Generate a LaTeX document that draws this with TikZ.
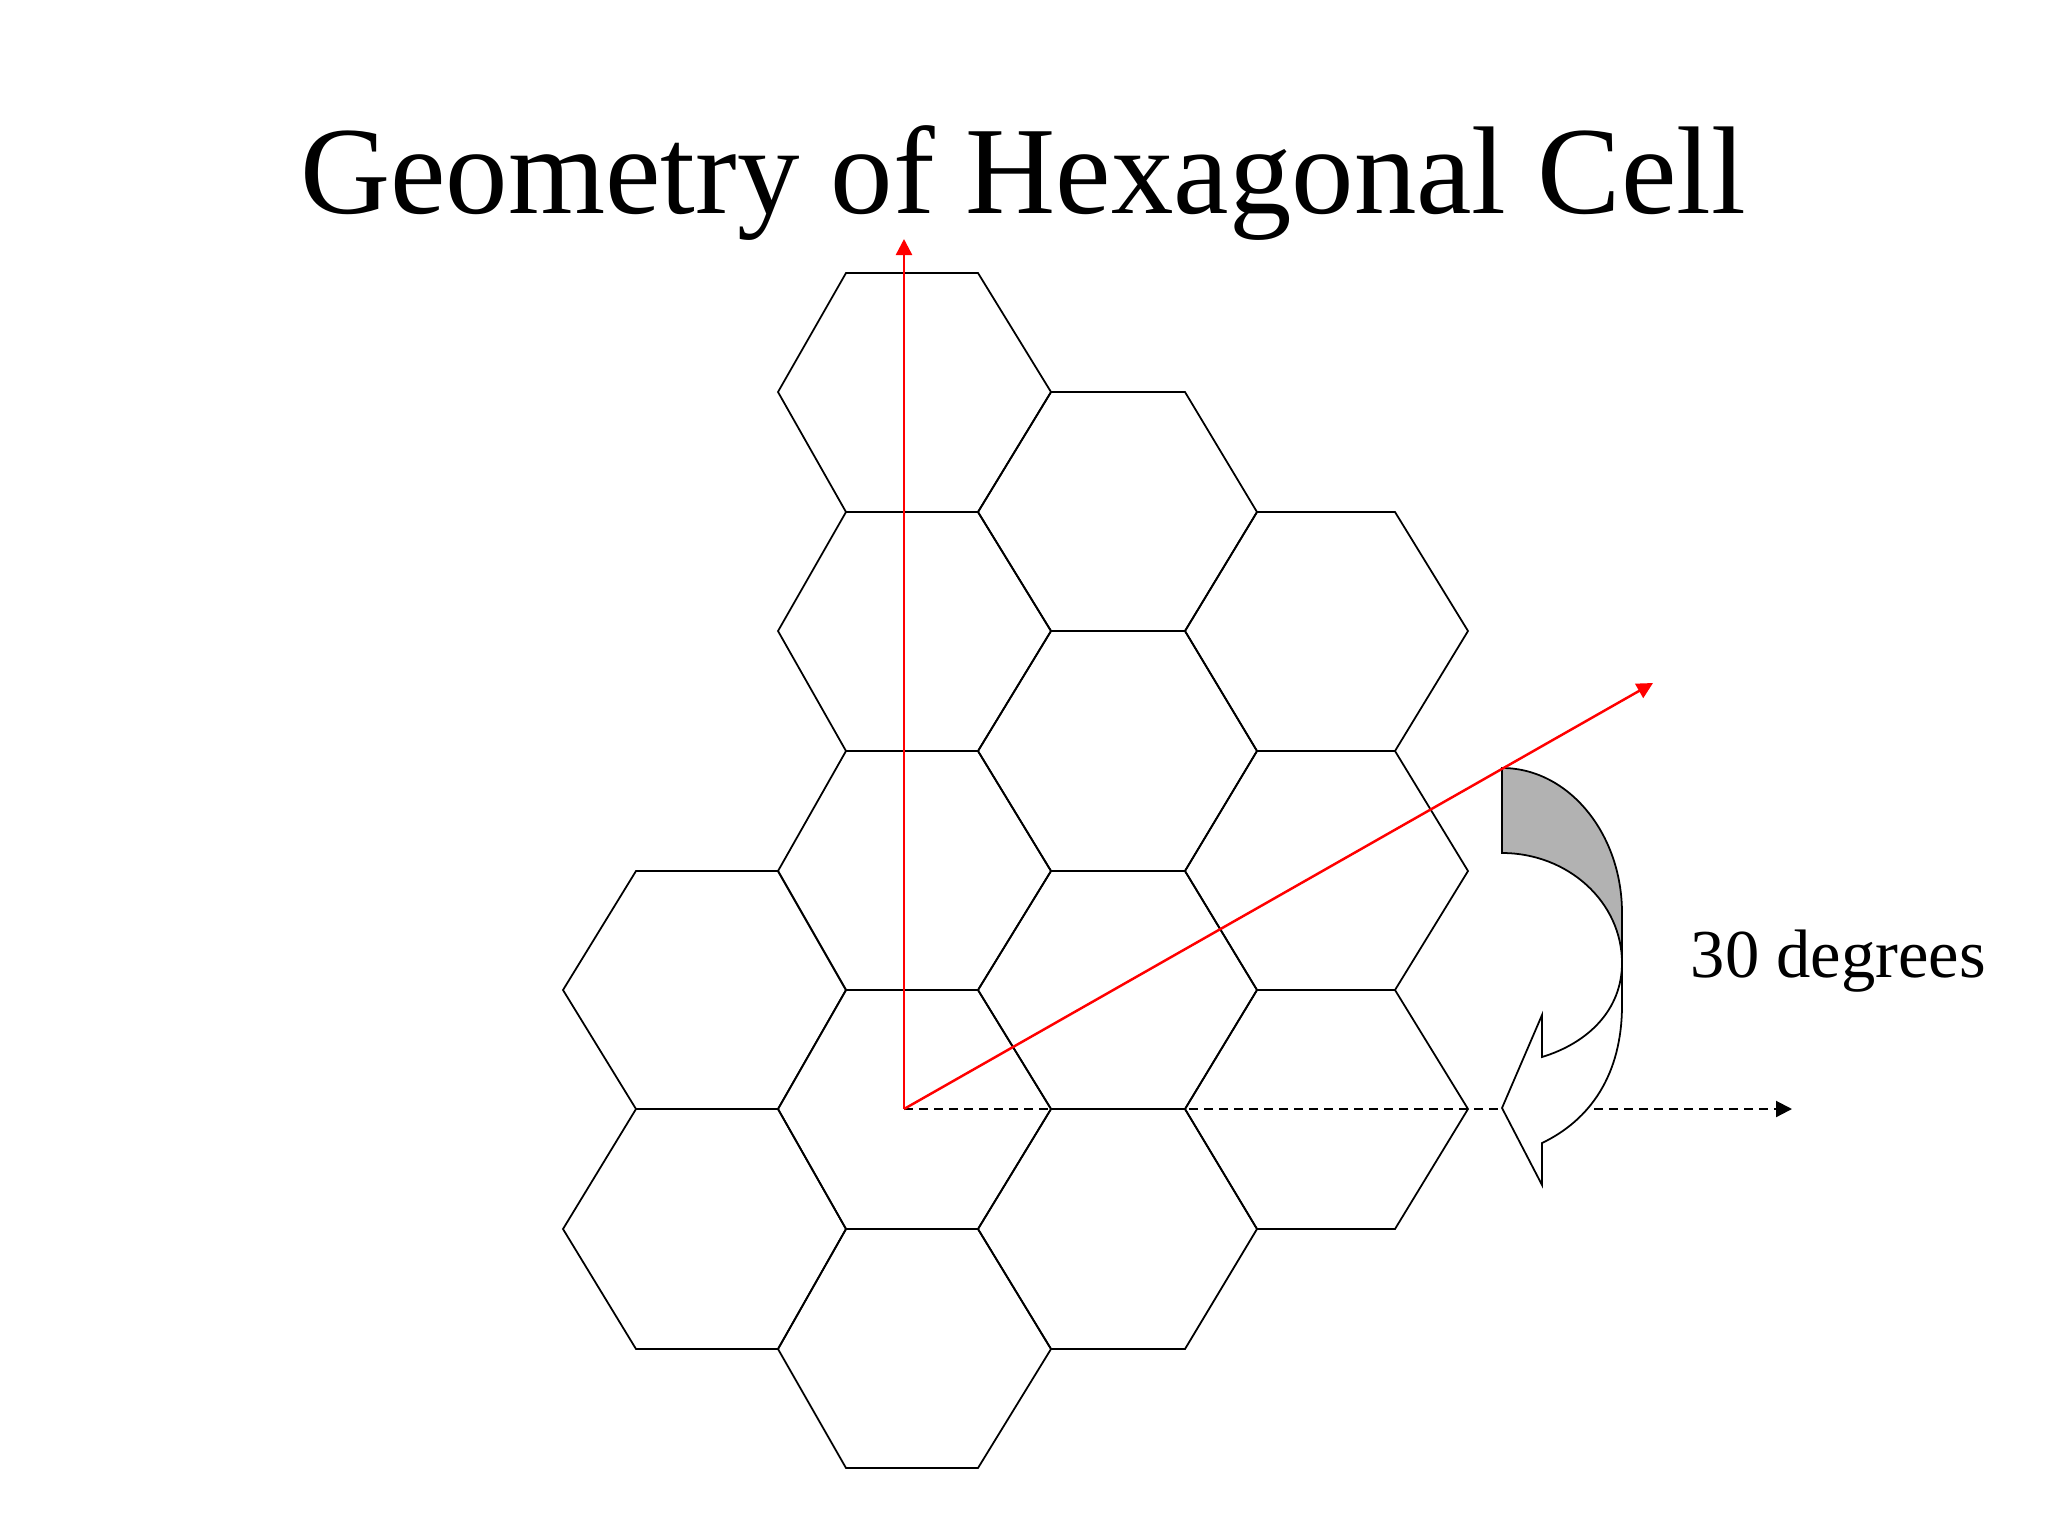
\documentclass[tikz,border=0pt]{standalone}
\usepackage{fontspec}
\setmainfont{Liberation Serif}
\usepackage{tikz}
\usepackage{xcolor}
\usetikzlibrary{arrows.meta}
\definecolor{shadegray}{gray}{0.7}
\tikzstyle{cell} = [draw, line width=0.5pt]
\tikzstyle{axis} = [->, draw=red, line width=0.7pt]
\tikzstyle{baseline} = [->, draw=black, line width=0.6pt, dash pattern=on 0.09cm off 0.06cm]
\tikzstyle{turn} = [draw, line width=0.5pt]

\begin{document}
\begin{tikzpicture}[x=0.01cm,y=-0.01cm,>={Triangle[length=0.16cm,width=0.16cm]}]
  \useasboundingbox (0,0) rectangle (2048,1536);

  \node[inner sep=0pt, anchor=base, font=\fontsize{35.5}{40}\selectfont] (title) at (1023,213) {Geometry of Hexagonal Cell};

  % left column
  \draw[cell] (563,990) -- (636,871) -- (778,871) -- (846,990) -- (778,1109) -- (636,1109) -- cycle;
  \draw[cell] (563,1229) -- (636,1109) -- (778,1109) -- (846,1229) -- (778,1349) -- (636,1349) -- cycle;
  % second column
  \draw[cell] (778,392) -- (846,273) -- (978,273) -- (1051,392) -- (978,512) -- (846,512) -- cycle;
  \draw[cell] (778,631) -- (846,512) -- (978,512) -- (1051,631) -- (978,751) -- (846,751) -- cycle;
  \draw[cell] (778,871) -- (846,751) -- (978,751) -- (1051,871) -- (978,990) -- (846,990) -- cycle;
  \draw[cell] (778,1109) -- (846,990) -- (978,990) -- (1051,1109) -- (978,1229) -- (846,1229) -- cycle;
  \draw[cell] (778,1349) -- (846,1229) -- (978,1229) -- (1051,1349) -- (978,1468) -- (846,1468) -- cycle;
  % third column
  \draw[cell] (978,512) -- (1051,392) -- (1185,392) -- (1257,512) -- (1185,631) -- (1051,631) -- cycle;
  \draw[cell] (978,751) -- (1051,631) -- (1185,631) -- (1257,751) -- (1185,871) -- (1051,871) -- cycle;
  \draw[cell] (978,990) -- (1051,871) -- (1185,871) -- (1257,990) -- (1185,1109) -- (1051,1109) -- cycle;
  \draw[cell] (978,1229) -- (1051,1109) -- (1185,1109) -- (1257,1229) -- (1185,1349) -- (1051,1349) -- cycle;
  % right column
  \draw[cell] (1185,631) -- (1257,512) -- (1395,512) -- (1468,631) -- (1395,751) -- (1257,751) -- cycle;
  \draw[cell] (1185,871) -- (1257,751) -- (1395,751) -- (1468,871) -- (1395,990) -- (1257,990) -- cycle;
  \draw[cell] (1185,1109) -- (1257,990) -- (1395,990) -- (1468,1109) -- (1395,1229) -- (1257,1229) -- cycle;

  \coordinate (O) at (904,1109);
  \coordinate (Ytip) at (904,239);
  \coordinate (Rtip) at (1653,683);
  \coordinate (Xtip) at (1792,1109);

  \path[baseline] (O) -- (Xtip);

  % curved arrow
  \path[turn, fill=shadegray] (1502,768) .. controls (1568,768) and (1622,833) .. (1622,913)
    -- (1622,963) .. controls (1622,902) and (1568,853) .. (1502,853) -- cycle;
  \path[turn, fill=white] (1622,963) .. controls (1622,1010) and (1588,1043) .. (1542,1057)
    -- (1542,1015) -- (1502,1108) -- (1542,1185) -- (1542,1143)
    .. controls (1590,1120) and (1622,1075) .. (1622,1005) -- cycle;

  \path[axis] (O) -- (Ytip);
  \path[axis] (O) -- (Rtip);

  \node[inner sep=0pt, anchor=base west, font=\fontsize{19.5}{23}\selectfont] (angle) at (1690,977) {30 degrees};
\end{tikzpicture}
\end{document}
